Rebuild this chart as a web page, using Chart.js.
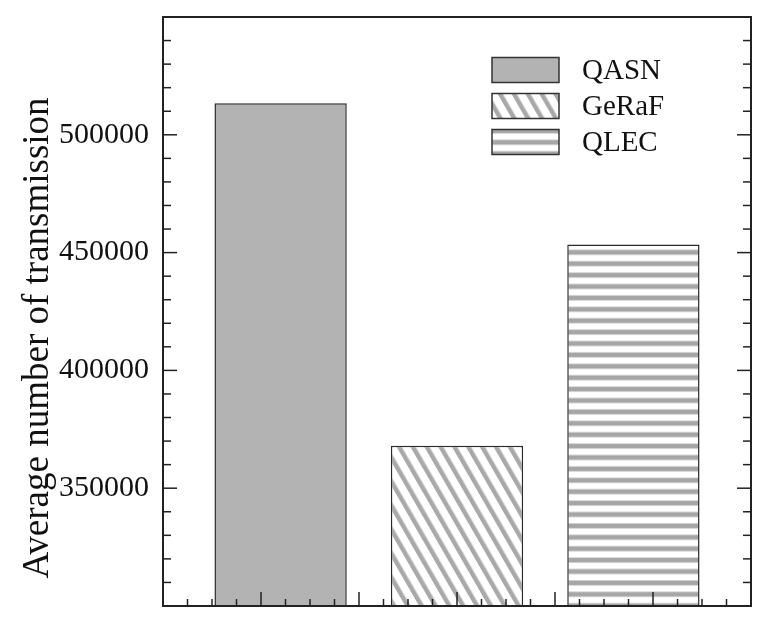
<!DOCTYPE html>
<html>
<head>
<meta charset="utf-8">
<script src="https://cdn.jsdelivr.net/npm/chart.js@4.4.0/dist/chart.umd.min.js"></script>
<style>
  html, body { margin: 0; padding: 0; background: #fff; }
</style>
</head>
<body>
<canvas id="transChart" width="766" height="626"></canvas>
<script>
const methods = ["QASN", "GeRaF", "QLEC"];
const barPositions = [1.2, 3.0, 4.8];
const avgTransmissions = [513400, 368000, 453400];
const yTickValues = [350000, 400000, 450000, 500000];
const yTitle = "Average number of transmission";

const serif = "'Liberation Serif', 'Times New Roman', serif";
const ink = "#111";

// gray stripes going down to the right, like "\\\"
function diagonalHatch() {
  const tile = document.createElement("canvas");
  tile.width = 12;
  tile.height = 12;
  const t = tile.getContext("2d");
  t.fillStyle = "#fff";
  t.fillRect(0, 0, 12, 12);
  t.fillStyle = "#a9a9a9";
  t.fillRect(0, 0, 4.5, 12);
  const p = t.createPattern(tile, "repeat");
  p.setTransform(new DOMMatrix().rotateSelf(-30));
  return p;
}

function horizontalHatch() {
  const tile = document.createElement("canvas");
  tile.width = 8;
  tile.height = 57;
  const t = tile.getContext("2d");
  t.fillStyle = "#fff";
  t.fillRect(0, 0, 8, 57);
  for (let k = -1; k <= 5; k++) {
    const c = 1.5 + 11.4 * k;
    t.fillStyle = "#d6d6d6";
    t.fillRect(0, c - 3, 8, 6);
    t.fillStyle = "#a6a6a6";
    t.fillRect(0, c - 2, 8, 4);
  }
  return t.createPattern(tile, "repeat");
}

const fills = ["#b3b3b3", diagonalHatch(), horizontalHatch()];

const frameAndTicks = {
  id: "frameAndTicks",
  afterDatasetsDraw(chart) {
    const { ctx, chartArea: a, scales: { x, y } } = chart;
    const line = (x1, y1, x2, y2) => {
      ctx.beginPath();
      ctx.moveTo(x1, y1);
      ctx.lineTo(x2, y2);
      ctx.stroke();
    };
    ctx.save();
    ctx.strokeStyle = "#222";
    ctx.lineWidth = 1.5;
    for (let v = y.min; v <= y.max; v += 10000) {
      const py = y.getPixelForValue(v);
      const len = v % 50000 === 0 ? 14 : 8;
      line(a.left, py, a.left + len, py);
      line(a.right, py, a.right - len, py);
    }
    for (let v = x.min; v <= x.max + 1e-9; v += 0.25) {
      const px = x.getPixelForValue(v);
      const len = Math.abs(v - Math.round(v)) < 1e-6 ? 14 : 7;
      line(px, a.bottom, px, a.bottom - len);
    }
    ctx.lineWidth = 2;
    ctx.strokeRect(a.left, a.top, a.right - a.left, a.bottom - a.top);
    ctx.restore();
  },
  afterDraw(chart) {
    const { ctx } = chart;
    const ds = chart.data.datasets[0];
    ctx.save();
    // y axis title
    ctx.fillStyle = ink;
    ctx.font = "37px " + serif;
    ctx.textAlign = "center";
    ctx.textBaseline = "middle";
    ctx.translate(38, 338);
    ctx.rotate(-Math.PI / 2);
    ctx.fillText(yTitle, 0, 0);
    ctx.restore();

    // legend inside the plot
    ctx.save();
    methods.forEach((name, i) => {
      const bx = 492, by = 57.5 + i * 36, bw = 67, bh = 25;
      const shift = i === 2 ? 4 : 0;
      ctx.save();
      ctx.translate(0, shift);
      ctx.fillStyle = ds.backgroundColor[i];
      ctx.fillRect(bx, by - shift, bw, bh);
      ctx.restore();
      ctx.strokeStyle = "#333";
      ctx.lineWidth = 1.5;
      ctx.strokeRect(bx, by, bw, bh);
      ctx.fillStyle = ink;
      ctx.font = "29px " + serif;
      ctx.textAlign = "left";
      ctx.textBaseline = "middle";
      ctx.fillText(name, 582, by + bh / 2 + 1);
    });
    ctx.restore();
  }
};

new Chart(document.getElementById("transChart"), {
  type: "bar",
  data: {
    datasets: [{
      label: "Average number of transmission",
      data: barPositions.map((p, i) => ({ x: p, y: avgTransmissions[i] })),
      backgroundColor: fills,
      borderColor: "#2a2a2a",
      borderWidth: 1.5,
      borderSkipped: "start",
      barPercentage: 1.35,
      categoryPercentage: 1
    }]
  },
  options: {
    responsive: false,
    animation: false,
    devicePixelRatio: 1,
    layout: { padding: { top: 17, right: 15, bottom: 20, left: 0 } },
    plugins: {
      legend: { display: false },
      tooltip: { enabled: false }
    },
    scales: {
      x: {
        type: "linear",
        min: 0,
        max: 6,
        offset: false,
        ticks: { display: false, stepSize: 1 },
        grid: { display: false, drawTicks: false },
        border: { display: false }
      },
      y: {
        min: 300000,
        max: 550000,
        afterFit: (scale) => {
          scale.width = 163;
          scale.paddingTop = 0;
          scale.paddingBottom = 0;
        },
        ticks: {
          stepSize: 50000,
          padding: 14,
          color: ink,
          font: { family: serif, size: 30 },
          callback: (v) => yTickValues.includes(v) ? String(v) : ""
        },
        grid: { display: false, drawTicks: false },
        border: { display: false }
      }
    }
  },
  plugins: [frameAndTicks]
});
</script>
</body>
</html>
